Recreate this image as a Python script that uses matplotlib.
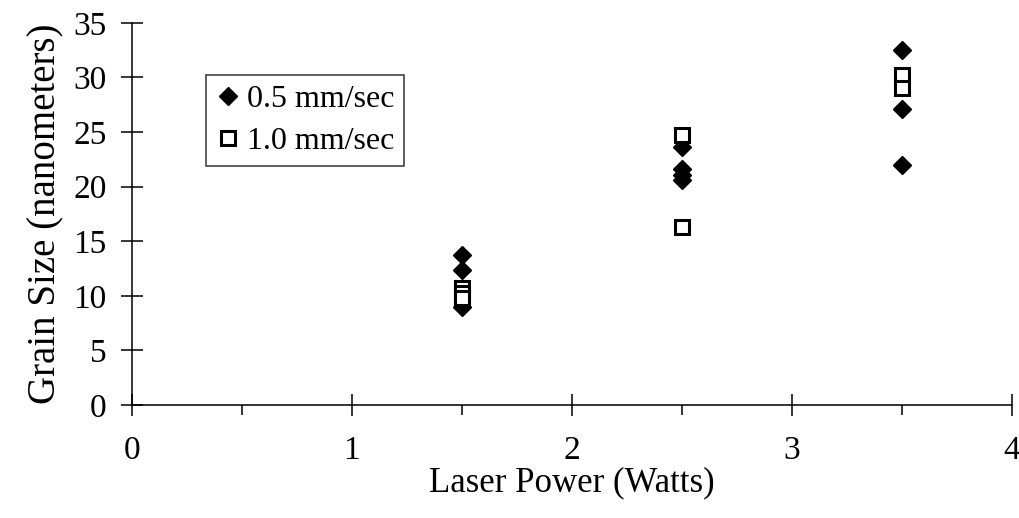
import numpy as np
import matplotlib
matplotlib.use('Agg')
import matplotlib.pyplot as plt
from matplotlib.ticker import MultipleLocator

# valores
power_05 = [1.5, 1.5, 1.5, 2.5, 2.5, 2.5, 2.5, 3.5, 3.5, 3.5]
size_05 = [13.7, 12.4, 9.0, 23.6, 21.6, 21.1, 20.6, 32.5, 27.1, 22.0]

power_10 = [1.5, 1.5, 1.5, 2.5, 2.5, 3.5, 3.5]
size_10 = [10.7, 10.3, 9.8, 24.7, 16.3, 30.2, 29.0]

x_ticks = [0, 1, 2, 3, 4]
y_ticks = [0, 5, 10, 15, 20, 25, 30, 35]

plt.rcParams['font.family'] = ['Liberation Serif', 'DejaVu Serif']

fig = plt.figure(figsize=(10.2, 5.18), dpi=100)
ax = fig.add_axes([0.129, 0.218, 0.863, 0.738])

ax.plot(power_05, size_05, linestyle='none', marker='D', markersize=9.5,
        color='black', label='0.5 mm/sec')
ax.plot(power_10, size_10, linestyle='none', marker='s', markersize=10,
        markerfacecolor='white', markeredgecolor='black', markeredgewidth=2.2,
        label='1.0 mm/sec')

ax.set_xlim(0, 4)
ax.set_ylim(0, 35)
ax.set_xticks(x_ticks)
ax.set_yticks(y_ticks)
ax.xaxis.set_minor_locator(MultipleLocator(0.5))

ax.spines['top'].set_visible(False)
ax.spines['right'].set_visible(False)
ax.spines['left'].set_linewidth(1.1)
ax.spines['bottom'].set_linewidth(1.1)

ax.tick_params(axis='both', which='major', direction='inout', length=16,
               width=1.1, labelsize=24)
ax.tick_params(axis='x', which='major', pad=14)
ax.tick_params(axis='y', which='major', pad=10)
ax.tick_params(axis='x', which='minor', direction='out', length=7, width=1.1)

ax.set_xlabel('Laser Power (Watts)', fontsize=25, labelpad=0)
ax.set_ylabel('Grain Size (nanometers)', fontsize=28, labelpad=6)

leg = ax.legend(loc='upper left', bbox_to_anchor=(0.084, 0.863), fontsize=23,
                frameon=True, fancybox=False, edgecolor='black',
                handletextpad=0.2, handlelength=0.8, borderpad=0.3,
                labelspacing=0.4, borderaxespad=0)
leg.get_frame().set_linewidth(1.1)

fig.savefig('out.png', dpi=100)
